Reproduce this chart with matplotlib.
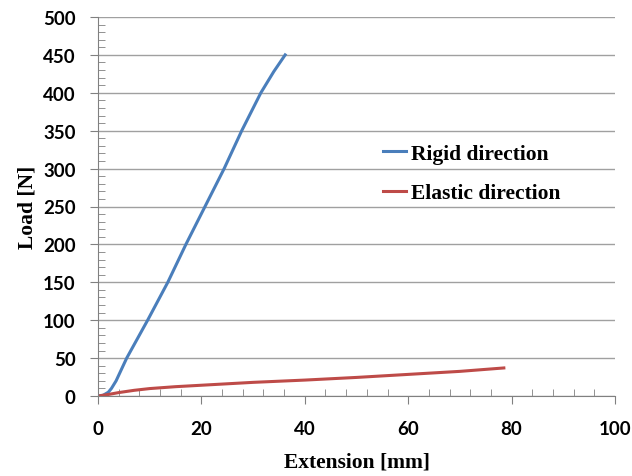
import numpy as np
import matplotlib
matplotlib.use("Agg")
import matplotlib.pyplot as plt
from matplotlib.ticker import MultipleLocator

# data
rigid_x = [0, 1.0, 2.0, 2.6, 3.5, 5.55, 9.6, 13.5, 17.0, 20.7, 24.4, 27.8, 31.5, 34.0, 36.2]
rigid_y = [0, 1, 5, 10, 20, 50, 100, 150, 200, 250, 300, 350, 400, 428, 450]
elastic_x = [0, 2, 4, 7, 10, 15, 20, 30, 40, 50, 60, 70, 78.5]
elastic_y = [0, 2, 4.5, 7.5, 9.8, 12.3, 14.2, 18, 21, 24.5, 28.5, 32.5, 37]

xticks = [0, 20, 40, 60, 80, 100]
yticks = list(range(0, 501, 50))

fig = plt.figure(figsize=(6.32, 4.77), dpi=100, facecolor='white')
ax = fig.add_axes([98/632, 1 - 397/477, (615-98)/632, (397-18)/477])

ax.plot(rigid_x, rigid_y, color='#4a7ebb', linewidth=2.2, label='Rigid direction')
ax.plot(elastic_x, elastic_y, color='#be4b48', linewidth=2.2, label='Elastic direction')

ax.set_xlim(0, 100)
ax.set_ylim(0, 500)
ax.set_xticks(xticks)
ax.set_yticks(yticks)
ax.xaxis.set_minor_locator(MultipleLocator(4))
ax.yaxis.set_minor_locator(MultipleLocator(10))

ax.grid(axis='y', color='#a0a0a0', linewidth=1)
ax.set_axisbelow(True)
for s in ['top', 'right']:
    ax.spines[s].set_visible(False)
for s in ['left', 'bottom']:
    ax.spines[s].set_color('#808080')

ax.tick_params(axis='both', which='major', length=6, color='#808080', direction='out')
ax.tick_params(axis='y', which='minor', length=5, color='#808080', direction='in')
ax.tick_params(axis='x', which='minor', length=5, color='#808080', direction='in')

for lab in ax.get_xticklabels() + ax.get_yticklabels():
    lab.set_fontfamily('Lato')
    lab.set_fontweight('bold')
    lab.set_fontsize(13.5)
ax.tick_params(axis='x', pad=11)
ax.tick_params(axis='y', pad=10)

ax.set_xlabel('Extension [mm]', fontfamily='Liberation Serif', fontweight='bold', fontsize=15.5, labelpad=11)
ax.set_ylabel('Load [N]', fontfamily='Liberation Serif', fontweight='bold', fontsize=15.5, labelpad=4)

leg = ax.legend(loc='center left', bbox_to_anchor=(0.513, 0.587), frameon=False,
                handlelength=1.1, handletextpad=0.2, labelspacing=0.9,
                prop={'family': 'Liberation Serif', 'weight': 'bold', 'size': 15.5})

fig.savefig('out.png', dpi=100)
